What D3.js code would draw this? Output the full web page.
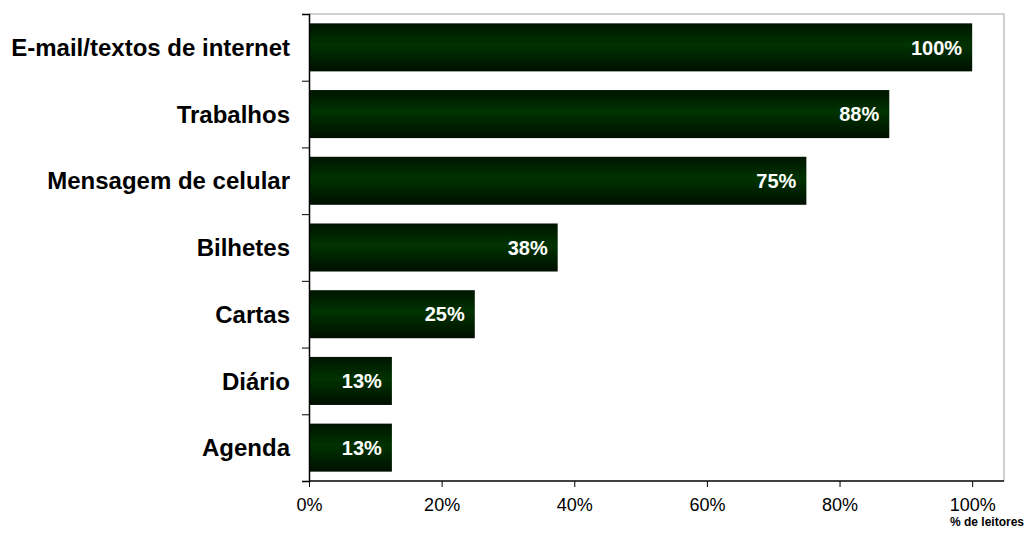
<!doctype html>
<html lang="pt">
<head>
<meta charset="utf-8">
<title>% de leitores</title>
<script src="https://d3js.org/d3.v7.min.js"></script>
<style>
  body { margin: 0; background: #fff; }
  svg text { font-family: "Liberation Sans", Arial, sans-serif; }
</style>
</head>
<body>
<script>
  // data
  var categorias = ["E-mail/textos de internet", "Trabalhos", "Mensagem de celular", "Bilhetes", "Cartas", "Diário", "Agenda"];
  var valores = [100, 87.5, 75, 37.5, 25, 12.5, 12.5];
  var rotulos = ["100%", "88%", "75%", "38%", "25%", "13%", "13%"];
  var ticks = [0, 20, 40, 60, 80, 100];

  var w = 1027, h = 536;
  var mLeft = 309, mRight = 1004, mTop = 14, mBottom = 481;

  var svg = d3.select("body").append("svg")
    .attr("width", w)
    .attr("height", h);

  // gradient for the bars
  var grad = svg.append("defs").append("linearGradient")
    .attr("id", "barra")
    .attr("x1", 0).attr("y1", 0).attr("x2", 0).attr("y2", 1);
  grad.append("stop").attr("offset", "0%").attr("stop-color", "#001400");
  grad.append("stop").attr("offset", "45%").attr("stop-color", "#003300");
  grad.append("stop").attr("offset", "100%").attr("stop-color", "#000f00");

  var x = d3.scaleLinear()
    .domain([0, 104.8])
    .range([mLeft, mRight]);

  var y = d3.scaleBand()
    .domain(categorias)
    .range([mTop, mBottom])
    .paddingInner(0.28)
    .paddingOuter(0.14);

  // frame (top & right in gray)
  svg.append("path")
    .attr("d", "M" + mLeft + "," + mTop + "H" + mRight + "V" + mBottom)
    .attr("fill", "none")
    .attr("stroke", "#c0c0c0")
    .attr("stroke-width", 1.5);

  // bars
  svg.selectAll("rect.barra")
    .data(valores)
    .enter()
    .append("rect")
    .attr("class", "barra")
    .attr("x", x(0))
    .attr("y", function(d, i) { return y(categorias[i]); })
    .attr("width", function(d) { return x(d) - x(0); })
    .attr("height", y.bandwidth())
    .attr("fill", "url(#barra)");

  // value labels
  svg.selectAll("text.valor")
    .data(valores)
    .enter()
    .append("text")
    .attr("class", "valor")
    .attr("x", function(d) { return x(d) - 10; })
    .attr("y", function(d, i) { return y(categorias[i]) + y.bandwidth() / 2; })
    .attr("dy", "0.36em")
    .attr("text-anchor", "end")
    .attr("fill", "#fff")
    .attr("font-weight", "bold")
    .attr("font-size", 20)
    .text(function(d, i) { return rotulos[i]; });

  // y axis
  var yAxis = d3.axisLeft(d3.scaleLinear().domain([0, categorias.length]).range([mTop, mBottom]))
    .ticks(categorias.length)
    .tickSize(7)
    .tickFormat("");
  var gy = svg.append("g")
    .attr("transform", "translate(" + mLeft + ",0)")
    .call(yAxis);
  gy.select(".domain").attr("stroke", "#000").attr("stroke-width", 1.5);

  svg.selectAll("text.cat")
    .data(categorias)
    .enter()
    .append("text")
    .attr("class", "cat")
    .attr("x", 290)
    .attr("y", function(d) { return y(d) + y.bandwidth() / 2; })
    .attr("dy", "0.36em")
    .attr("text-anchor", "end")
    .attr("font-weight", "bold")
    .attr("font-size", 24)
    .attr("fill", "#000")
    .text(function(d) { return d; });

  // x axis
  var xAxis = d3.axisBottom(x)
    .tickValues(ticks)
    .tickSize(6)
    .tickPadding(11)
    .tickFormat(function(d) { return d + "%"; });
  var gx = svg.append("g")
    .attr("transform", "translate(0," + mBottom + ")")
    .call(xAxis);
  gx.select(".domain").attr("d", "M" + mLeft + ",0H" + mRight).attr("stroke", "#000").attr("stroke-width", 1.5);
  gx.selectAll("text").attr("font-size", 18).attr("fill", "#000");

  svg.append("text")
    .attr("x", 1024)
    .attr("y", 526)
    .attr("text-anchor", "end")
    .attr("font-weight", "bold")
    .attr("font-size", 12)
    .text("% de leitores");
</script>
</body>
</html>
